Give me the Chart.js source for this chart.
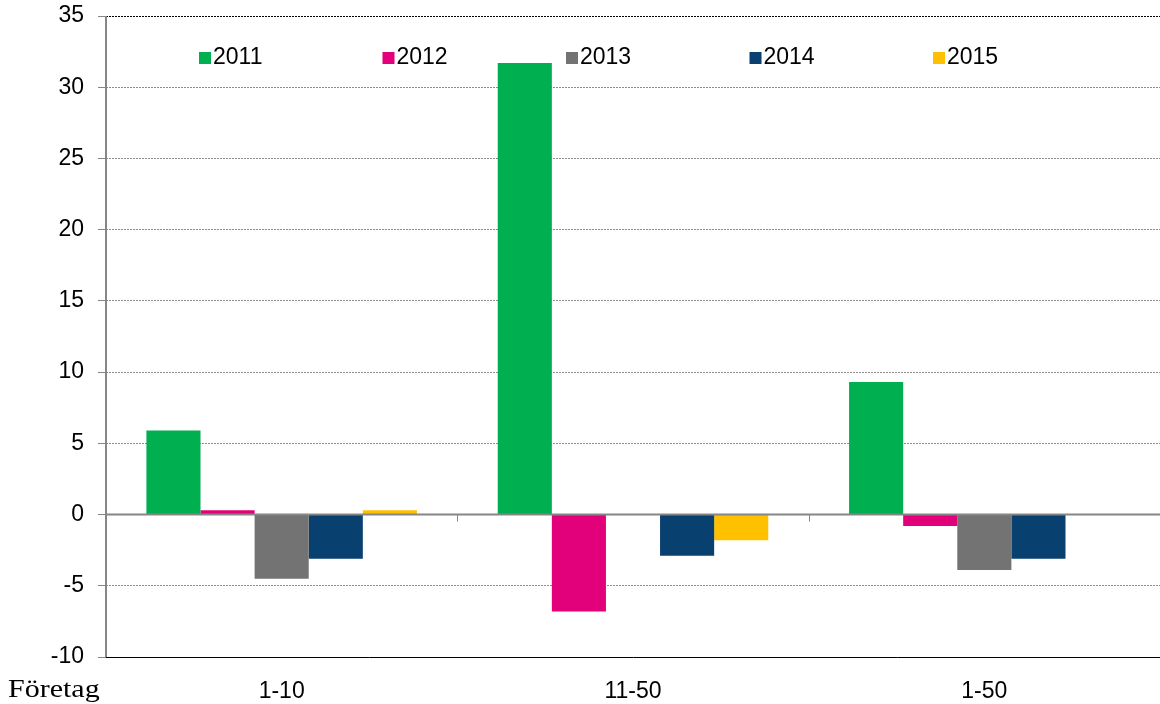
<!DOCTYPE html>
<html>
<head>
<meta charset="utf-8">
<script src="https://cdn.jsdelivr.net/npm/chart.js@4"></script>
<style>
  html, body { margin: 0; padding: 0; background: #fff; overflow: hidden; }
  #wrap { width: 1160px; height: 704px; }
</style>
</head>
<body>
<div id="wrap"><canvas id="chart"></canvas></div>
<script>
const categories = ['1-10', '11-50', '1-50'];
const years = ['2011', '2012', '2013', '2014', '2015'];
const values2011 = [5.9, 31.7, 9.3];
const values2012 = [0.3, -6.8, -0.8];
const values2013 = [-4.5, null, -3.9];
const values2014 = [-3.1, -2.9, -3.1];
const values2015 = [0.3, -1.8, null];
const colors = ['#00AF50', '#E3007B', '#737373', '#08416F', '#FFC000'];

const seriesValues = [values2011, values2012, values2013, values2014, values2015];

// legend inside the plot, axis lines, category ticks and the "Företag" label
const extras = {
  id: 'extras',
  afterDatasetsDraw(chart) {
    const { ctx, chartArea, scales } = chart;
    const y0 = scales.y.getPixelForValue(0);
    ctx.save();
    ctx.strokeStyle = '#868686';
    ctx.lineWidth = 2;
    ctx.beginPath();
    ctx.moveTo(chartArea.left, y0);
    ctx.lineTo(chartArea.right, y0);
    ctx.stroke();

    // left axis line
    ctx.beginPath();
    ctx.moveTo(chartArea.left, chartArea.top);
    ctx.lineTo(chartArea.left, chartArea.bottom);
    ctx.stroke();

    // tick marks between categories on the zero line
    ctx.lineWidth = 1;
    for (let i = 1; i < categories.length; i++) {
      const x = Math.round((scales.x.getPixelForValue(i - 1) + scales.x.getPixelForValue(i)) / 2) + 0.5;
      ctx.beginPath();
      ctx.moveTo(x, y0);
      ctx.lineTo(x, y0 + 7);
      ctx.stroke();
    }

    // legend
    ctx.font = '23px "Liberation Sans", Arial, sans-serif';
    ctx.textBaseline = 'middle';
    ctx.textAlign = 'left';
    chart.data.datasets.forEach((ds, i) => {
      const x = chartArea.left + 93 + i * 183.5;
      const y = chartArea.top + 42;
      ctx.fillStyle = ds.backgroundColor;
      ctx.fillRect(x, y - 6, 12, 12);
      ctx.fillStyle = '#000';
      ctx.fillText(ds.label, x + 14, y);
    });

    ctx.font = '25px "Liberation Serif", "Times New Roman", serif';
    ctx.translate(8, 690);
    ctx.scale(1.2, 1);
    ctx.fillText('Företag', 0, 0);
    ctx.restore();
  }
};

new Chart(document.getElementById('chart'), {
  type: 'bar',
  data: {
    labels: categories,
    datasets: years.map((year, i) => ({
      label: year,
      data: seriesValues[i],
      backgroundColor: colors[i],
      borderWidth: 0,
      barPercentage: 1,
      categoryPercentage: 0.77
    }))
  },
  options: {
    responsive: true,
    maintainAspectRatio: false,
    animation: false,
    layout: { padding: { top: 16, right: 0, left: 0, bottom: 0 } },
    plugins: {
      legend: { display: false },
      tooltip: { enabled: false }
    },
    scales: {
      x: {
        grid: { display: false, drawTicks: false },
        border: { display: true, color: '#000', width: 1 },
        ticks: {
          color: '#000',
          padding: 21,
          font: { family: '"Liberation Sans", Arial, sans-serif', size: 23 }
        },
        afterFit(scale) { scale.height = 47; scale.paddingLeft = 0; scale.paddingRight = 0; }
      },
      y: {
        min: -10,
        max: 35,
        ticks: {
          stepSize: 5,
          color: '#000',
          padding: 14,
          font: { family: '"Liberation Sans", Arial, sans-serif', size: 23 }
        },
        grid: {
          color: (c) => {
            const v = c.tick && c.tick.value;
            if (v === 0) return 'rgba(0,0,0,0)';
            if (v === 35) return '#000';
            return '#8c8c8c';
          },
          lineWidth: 1,
          tickLength: 8,
          tickColor: '#868686',
          tickWidth: 1
        },
        border: { display: false, dash: [2, 1] },
        afterFit(scale) { scale.width = 106; scale.paddingTop = 0; scale.paddingBottom = 0; }
      }
    }
  },
  plugins: [extras]
});
</script>
</body>
</html>
